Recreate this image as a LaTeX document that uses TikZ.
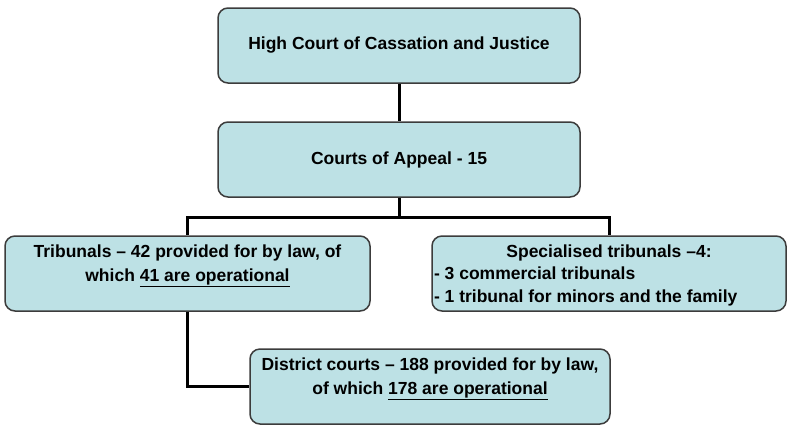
\documentclass[tikz,border=0pt]{standalone}
\usepackage{fontspec}
\setmainfont{Liberation Sans}
\usepackage{xcolor}
\usetikzlibrary{positioning, calc}

\definecolor{boxfill}{RGB}{189,225,229}
\definecolor{boxline}{RGB}{60,60,60}

\begin{document}
\begin{tikzpicture}[x=1pt, y=-1pt,
    court/.style={draw=boxline, line width=1.5pt, fill=boxfill, rounded corners=10pt,
      minimum width=362pt, minimum height=75pt, inner sep=2pt,
      font=\fontsize{17.5}{24}\selectfont\bfseries, text=black},
    link/.style={line width=3pt, black}]
      \useasboundingbox (0,0) rectangle (791,424);

      \node[court] (high) at (399,45.5) {High Court of Cassation and Justice};
      \node[court] (appeal) at (399,159.5) {Courts of Appeal - 15};

      \node[court, minimum width=365pt] (trib) at (187.5,273.5)
        {\begin{minipage}[c][58pt][t]{355pt}\centering
          Tribunals -- 42 provided for by law, of\\ which \underline{41 are operational}\end{minipage}};
      \node[court, minimum width=354pt] (spec) at (609,273.5)
        {\begin{minipage}[c][58pt][t]{350pt}\fontsize{17.5}{22.5}\selectfont
          \centering Specialised tribunals --4:\par\raggedright
          - 3 commercial tribunals\\ - 1 tribunal for minors and the family\end{minipage}};
      \node[court, minimum width=360pt] (dist) at (430,386.5)
        {\begin{minipage}[c][58pt][t]{350pt}\centering
          District courts -- 188 provided for by law,\\ of which \underline{178 are operational}\end{minipage}};

      \coordinate (split) at (399,217);
      \draw[link] (high) -- (appeal);
      \draw[link] (appeal) -- (split) -| (trib.north);
      \draw[link] (split) -| (spec.north);
      \draw[link] (trib.south) |- (dist.west);
    \end{tikzpicture}
\end{document}
